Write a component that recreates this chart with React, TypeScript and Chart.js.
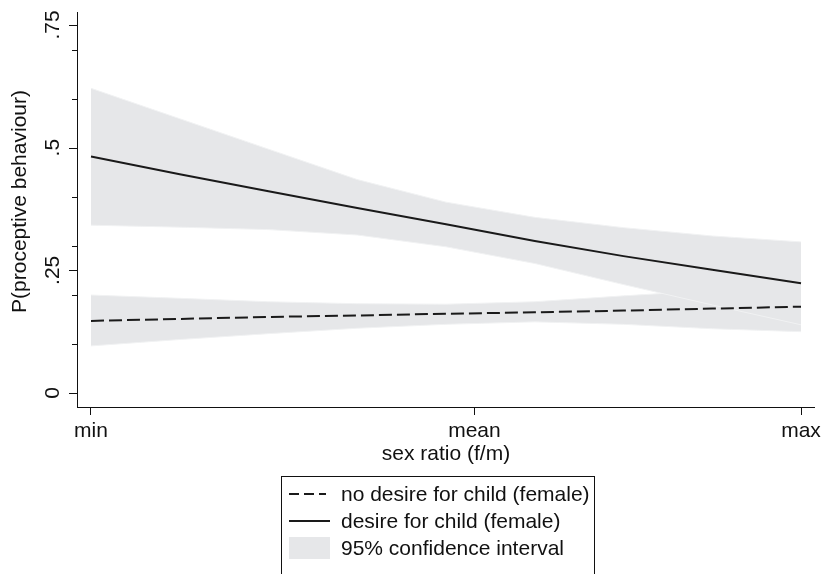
import React, { useEffect, useRef } from 'react';
import { Chart, registerables } from 'chart.js';

Chart.register(...registerables);

// ---- data (x as fraction of the sex-ratio range: min = 0, max = 1) ----
const xPositions = [0, 0.125, 0.25, 0.375, 0.5, 0.625, 0.75, 0.875, 1];
const xTickValues = [0, 0.54, 1];
const xTickLabels = ['min', 'mean', 'max'];
const yMajorTicks = [0, 0.25, 0.5, 0.75];
const yMajorLabels = ['0', '.25', '.5', '.75'];
const yMinorTicks = [0.1, 0.2, 0.3, 0.4, 0.6, 0.7];

const noDesire = [0.147, 0.151, 0.155, 0.158, 0.1615, 0.1645, 0.168, 0.172, 0.176];
const noDesireLower = [0.096, 0.109, 0.121, 0.132, 0.14, 0.145, 0.14, 0.131, 0.125];
const noDesireUpper = [0.1997, 0.193, 0.186, 0.182, 0.181, 0.186, 0.198, 0.209, 0.22];
const desire = [0.482, 0.446, 0.411, 0.377, 0.344, 0.31, 0.279, 0.251, 0.2235];
const desireLower = [0.342, 0.338, 0.333, 0.322, 0.298, 0.264, 0.221, 0.1795, 0.139];
const desireUpper = [0.621, 0.559, 0.497, 0.435, 0.389, 0.358, 0.337, 0.32, 0.308];

const legendLabels = [
  'no desire for child (female)',
  'desire for child (female)',
  '95% confidence interval',
];
const xTitle = 'sex ratio (f/m)';
const yTitle = 'P(proceptive behaviour)';

const FONT = '"Liberation Sans", Arial, Helvetica, sans-serif';
const TEXT = '#111';
const LINE = '#1a1a1a';
const BAND = 'rgb(230,231,233)';
const BAND_EDGE = 'rgb(241,242,243)';

const pts = (ys: number[]) => xPositions.map((x, i) => ({ x, y: ys[i] }));

const axisPlugin = {
  id: 'stataAxes',
  afterDraw(chart: any) {
    const ctx = chart.ctx as CanvasRenderingContext2D;
    const y = chart.scales.y;
    const left = chart.chartArea.left;
    ctx.save();
    ctx.strokeStyle = TEXT;
    ctx.lineWidth = 1;
    yMajorTicks.forEach((v) => {
      const py = Math.round(y.getPixelForValue(v)) + 0.5;
      ctx.beginPath();
      ctx.moveTo(left - 8, py);
      ctx.lineTo(left, py);
      ctx.stroke();
    });
    yMinorTicks.forEach((v) => {
      const py = Math.round(y.getPixelForValue(v)) + 0.5;
      ctx.beginPath();
      ctx.moveTo(left - 5, py);
      ctx.lineTo(left, py);
      ctx.stroke();
    });
    ctx.fillStyle = TEXT;
    ctx.font = `21px ${FONT}`;
    ctx.textAlign = 'center';
    ctx.textBaseline = 'middle';
    yMajorTicks.forEach((v, i) => {
      ctx.save();
      ctx.translate(53, y.getPixelForValue(v));
      ctx.rotate(-Math.PI / 2);
      ctx.fillText(yMajorLabels[i], 0, 0);
      ctx.restore();
    });
    ctx.save();
    ctx.translate(20.6, 201.5);
    ctx.rotate(-Math.PI / 2);
    ctx.fillText(yTitle, 0, 0);
    ctx.restore();
    ctx.restore();
  },
};

export default function App() {
  const ref = useRef<HTMLCanvasElement>(null);

  useEffect(() => {
    const chart = new Chart(ref.current as HTMLCanvasElement, {
      type: 'line',
      data: {
        datasets: [
          {
            label: legendLabels[0],
            data: pts(noDesire),
            borderColor: LINE,
            borderWidth: 2,
            borderDash: [13, 5],
            pointRadius: 0,
            fill: false,
          },
          {
            label: legendLabels[1],
            data: pts(desire),
            borderColor: LINE,
            borderWidth: 2,
            pointRadius: 0,
            fill: false,
          },
          {
            label: 'desire lower',
            data: pts(desireLower),
            borderColor: BAND_EDGE,
            borderWidth: 1,
            pointRadius: 0,
            fill: false,
          },
          {
            label: 'desire upper',
            data: pts(desireUpper),
            borderColor: BAND_EDGE,
            borderWidth: 1,
            backgroundColor: BAND,
            pointRadius: 0,
            fill: '-1',
          },
          {
            label: 'no desire lower',
            data: pts(noDesireLower),
            borderColor: BAND_EDGE,
            borderWidth: 1,
            pointRadius: 0,
            fill: false,
          },
          {
            label: 'no desire upper',
            data: pts(noDesireUpper),
            borderColor: BAND_EDGE,
            borderWidth: 1,
            backgroundColor: BAND,
            pointRadius: 0,
            fill: '-1',
          },
        ],
      } as any,
      options: {
        responsive: false,
        animation: false,
        events: [],
        layout: { padding: { top: 12, right: 8, left: 0, bottom: 0 } },
        plugins: {
          legend: { display: false },
          tooltip: { enabled: false },
        },
        scales: {
          x: {
            type: 'linear',
            min: -0.0197,
            max: 1.0197,
            afterBuildTicks: (s: any) => {
              s.ticks = xTickValues.map((v) => ({ value: v }));
            },
            afterFit: (s: any) => {
              s.height = 167;
            },
            ticks: {
              callback: (_v: any, i: number) => xTickLabels[i],
              font: { family: FONT, size: 21 },
              color: TEXT,
              padding: 4,
              maxRotation: 0,
              minRotation: 0,
              autoSkip: false,
            },
            grid: {
              drawOnChartArea: false,
              drawTicks: true,
              tickLength: 8,
              tickColor: TEXT,
              tickWidth: 1,
            },
            border: { display: true, color: TEXT, width: 1 },
            title: {
              display: true,
              text: xTitle,
              font: { family: FONT, size: 21 },
              color: TEXT,
              padding: { top: 0, bottom: 107 },
            },
          },
          y: {
            type: 'linear',
            min: -0.0285,
            max: 0.7765,
            afterFit: (s: any) => {
              s.width = 77;
            },
            ticks: { display: false },
            grid: { drawOnChartArea: false, drawTicks: false },
            border: { display: true, color: TEXT, width: 1 },
          },
        },
      } as any,
      plugins: [axisPlugin],
    });
    return () => chart.destroy();
  }, []);

  const rowText: React.CSSProperties = {
    position: 'absolute',
    left: 341,
    height: 24,
    lineHeight: '24px',
    fontFamily: FONT,
    fontSize: 21,
    color: TEXT,
    whiteSpace: 'nowrap',
  };

  return (
    <div
      style={{
        position: 'fixed',
        left: 0,
        top: 0,
        width: 825,
        height: 574,
        overflow: 'hidden',
        background: '#fff',
      }}
    >
      <canvas
        ref={ref}
        width={825}
        height={574}
        style={{ position: 'absolute', left: 0, top: 0, width: 825, height: 574 }}
      />
      <div
        style={{
          position: 'absolute',
          left: 281,
          top: 476,
          width: 314,
          height: 140,
          border: `1px solid ${TEXT}`,
          boxSizing: 'border-box',
        }}
      />
      <svg
        style={{ position: 'absolute', left: 0, top: 0 }}
        width={825}
        height={574}
      >
        <line x1={289} y1={494} x2={326} y2={494} stroke={LINE} strokeWidth={2} strokeDasharray="10 5" />
        <line x1={289} y1={521} x2={330} y2={521} stroke={LINE} strokeWidth={2} />
        <rect x={289} y={537} width={41} height={22} fill={BAND} />
      </svg>
      <div style={{ ...rowText, top: 494 - 12 }}>{legendLabels[0]}</div>
      <div style={{ ...rowText, top: 521 - 12 }}>{legendLabels[1]}</div>
      <div style={{ ...rowText, top: 548 - 12 }}>{legendLabels[2]}</div>
    </div>
  );
}
